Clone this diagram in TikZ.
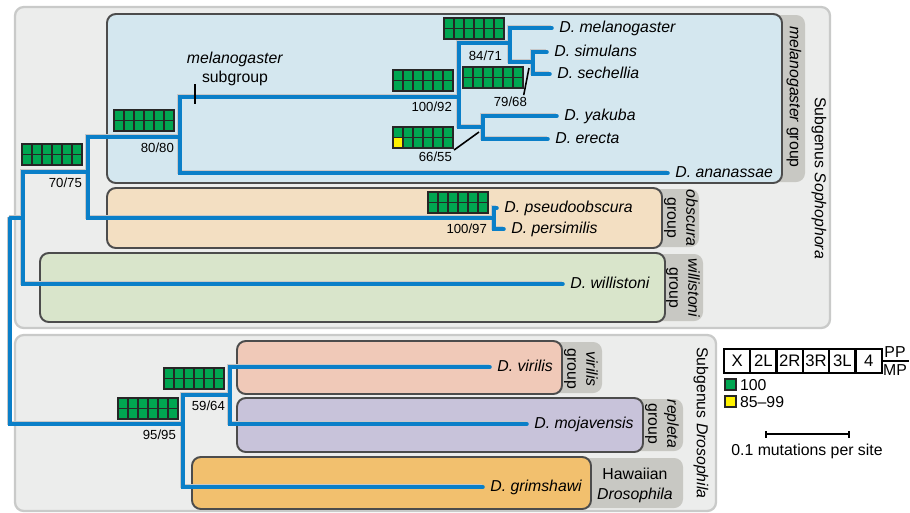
\documentclass[tikz,border=0pt]{standalone}
\usepackage{fontspec}
\setmainfont{Liberation Sans}
\usepackage{tikz}
\usetikzlibrary{positioning}
\definecolor{subfill}{HTML}{ECEDEC}
\definecolor{subline}{HTML}{C9CAC9}
\definecolor{melfill}{HTML}{D4E7EF}
\definecolor{obsfill}{HTML}{F3DFC2}
\definecolor{wilfill}{HTML}{D9E5CB}
\definecolor{virfill}{HTML}{F0C9B8}
\definecolor{repfill}{HTML}{C8C3DA}
\definecolor{hawfill}{HTML}{F2C06E}
\definecolor{tabgray}{HTML}{C8C8C3}
\definecolor{treeblue}{HTML}{0A7FC8}
\definecolor{supgreen}{HTML}{00A651}
\definecolor{supyellow}{HTML}{FFF200}
\tikzstyle{subgenus}=[rounded corners=5pt, draw=subline, line width=1.3pt, fill=subfill]
\tikzstyle{grp}=[rounded corners=5pt, draw=black!70, line width=1.1pt]
\tikzstyle{tab}=[rounded corners=5pt, fill=tabgray]
\tikzstyle{sp}=[anchor=west, inner xsep=4pt, inner ysep=1pt, font=\fontsize{9}{10}\selectfont\itshape, text height=7pt, text depth=2pt]
\tikzstyle{num}=[anchor=east, inner sep=1pt, font=\fontsize{7.5}{8}\selectfont]
\tikzstyle{tag}=[rotate=-90, align=center, inner sep=0pt, font=\fontsize{9}{10.8}\selectfont]
\tikzstyle{branch}=[draw=treeblue, line width=2pt, line cap=round, preaction={draw=black!22, line width=2pt, transform canvas={shift={(-0.6pt,0.6pt)}}}]
\tikzstyle{pointer}=[-, line width=0.9pt]
\tikzstyle{chrom}=[draw, line width=1.3pt, minimum width=0.526cm, minimum height=0.48cm, inner sep=0pt, font=\fontsize{9.5}{10}\selectfont]
\tikzstyle{key}=[anchor=west, inner sep=1pt, font=\fontsize{9}{10}\selectfont]
\tikzstyle{cell}=[line width=0.8pt, draw=black!85]
\tikzset{pics/supbox/.style={code={
  \fill[supgreen] (0,0) rectangle (60,21);
  \fill[#1] (0,10.5) rectangle (10,21);
  \foreach \i in {10,20,...,50} \draw[cell] (\i,0) -- (\i,21);
  \draw[cell] (0,10.5) -- (60,10.5);
  \draw[cell] (0,0) rectangle (60,21);
}}}

\begin{document}
\begin{tikzpicture}[x=0.02cm, y=-0.02cm]
			\useasboundingbox (0,0) rectangle (910,512);

			%The subgenus boxes
			\draw[subgenus] (15,7) rectangle (830,328);
			\draw[subgenus] (15,335) rectangle (716,511);

			%The group tabs
			\fill[tab] (760,15) rectangle (805,182);
			\fill[tab] (640,189) rectangle (699,247);
			\fill[tab] (640,254) rectangle (703,321);
			\fill[tab] (540,342) rectangle (602,393);
			\fill[tab] (620,399) rectangle (683,451);
			\fill[tab] (570,458) rectangle (683,508);

			%The group boxes
			\draw[grp, fill=melfill] (107,14) rectangle (782,183);
			\draw[grp, fill=obsfill] (107,188) rectangle (662,248);
			\draw[grp, fill=wilfill] (40,253) rectangle (665,322);
			\draw[grp, fill=virfill] (237,341) rectangle (562,394);
			\draw[grp, fill=repfill] (237,398) rectangle (643,452);
			\draw[grp, fill=hawfill] (192,457) rectangle (591,509);

			%The group and subgenus names
			\draw (794,97) node[tag] (melgrp) {\textit{melanogaster} group};
			\draw (681,218) node[tag] (obsgrp) {\textit{obscura}\\group};
			\draw (683,288) node[tag] (wilgrp) {\textit{willistoni}\\group};
			\draw (581,369) node[tag] (virgrp) {\textit{virilis}\\group};
			\draw (662,424) node[tag] (repgrp) {\textit{repleta}\\group};
			\draw (635,485) node[align=center, inner sep=0pt, font=\fontsize{9}{11.3}\selectfont] (hawgrp) {Hawaiian\\\textit{Drosophila}};
			\draw (819,178) node[tag] (sopgen) {Subgenus \textit{Sophophora}};
			\draw (701,423) node[tag] (drogen) {Subgenus \textit{Drosophila}};

			%The species
			\draw (552,28) node[sp] (mel) {D. melanogaster};
			\draw (547,52) node[sp] (sim) {D. simulans};
			\draw (550,74) node[sp] (sec) {D. sechellia};
			\draw (557,116) node[sp] (yak) {D. yakuba};
			\draw (548,139) node[sp] (ere) {D. erecta};
			\draw (668,173) node[sp] (ana) {D. ananassae};
			\draw (497,208) node[sp] (pse) {D. pseudoobscura};
			\draw (504,229) node[sp] (per) {D. persimilis};
			\draw (563,284) node[sp] (wil) {D. willistoni};
			\draw (490,367) node[sp] (vir) {D. virilis};
			\draw (527,424) node[sp] (moj) {D. mojavensis};
			\draw (483,487) node[sp] (gri) {D. grimshawi};

			%The inner nodes of the tree
			\coordinate (root) at (10,218);
			\coordinate (sop) at (23,218);
			\coordinate (n1) at (88,172);
			\coordinate (n2) at (180,137);
			\coordinate (n3) at (459,97);
			\coordinate (n4) at (510,43);
			\coordinate (n5) at (533,62);
			\coordinate (n6) at (483,127);
			\coordinate (obs) at (494,218);
			\coordinate (dro) at (183,424);
			\coordinate (n7) at (230,395);

			%The tree
			\draw[branch] (root) -- (sop) (root) |- (dro)
				(sop) |- (n1) (sop) |- (wil.west)
				(n1) |- (n2) (n1) |- (obs)
				(n2) |- (n3) (n2) |- (ana.west)
				(n3) |- (n4) (n3) |- (n6)
				(n4) |- (mel.west) (n4) |- (n5)
				(n5) |- (sim.west) (n5) |- (sec.west)
				(n6) |- (yak.west) (n6) |- (ere.west)
				(obs) |- (pse.west) (obs) |- (per.west)
				(dro) |- (n7) (dro) |- (gri.west)
				(n7) |- (vir.west) (n7) |- (moj.west);

			%The subgroup mark
			\draw[line width=1pt] (195,84) coordinate (subtop) -- (195,104);
			\draw (235,69) node[align=center, inner sep=0pt, font=\fontsize{9}{10.8}\selectfont] (subg) {\textit{melanogaster}\\subgroup};

			%The support boxes
			\pic at (22,144) {supbox=supgreen};
			\pic at (114,110) {supbox=supgreen};
			\pic at (393,70) {supbox=supgreen};
			\pic at (393,127) {supbox=supyellow};
			\pic at (444,18) {supbox=supgreen};
			\pic at (463,67) {supbox=supgreen};
			\pic at (428,192) {supbox=supgreen};
			\pic at (164,368) {supbox=supgreen};
			\pic at (118,398) {supbox=supgreen};

			%The support values
			\draw (84,183) node[num] (s1) {70/75};
			\draw (176,148) node[num] (s2) {80/80};
			\draw (454,107) node[num] (s3) {100/92};
			\draw (454,157) node[num] (s4) {66/55};
			\draw (504,56) node[num] (s5) {84/71};
			\draw (529,102) node[num] (s6) {79/68};
			\draw (489,229) node[num] (s7) {100/97};
			\draw (227,406) node[num] (s8) {59/64};
			\draw (178,435) node[num] (s9) {95/95};

			\coordinate (n6-mark) at (479,132);
			\coordinate (n5-mark) at (529,68);
			\draw[pointer] (s4.north east) -- (n6-mark);
			\draw[pointer] ([xshift=-3pt]s6.north east) -- (n5-mark);

			%The key
			\foreach \lab [count=\i] in {X,2L,2R,3R,3L,4}
				\draw ({724+26.3*(\i-0.5)},361) node[chrom] (c\i) {\lab};
			\draw[line width=1pt] (c6.east) -- ++(26,0) coordinate (ppend);
			\draw (895,352) node[key, anchor=center] (pp) {PP};
			\draw (895,370) node[key, anchor=center] (mp) {MP};
			\draw[cell, fill=supgreen] (725,379) rectangle (736,390);
			\draw (738,385) node[key] (k100) {100};
			\draw[cell, fill=supyellow] (725,396) rectangle (736,407);
			\draw (738,402) node[key] (k85) {85–99};

			%The scale bar
			\draw[line width=1.4pt] (766,431) -- (766,438) (766,434) -- (849,434) (849,431) -- (849,438);
			\draw (807,451) node[key, anchor=center] (scale) {0.1 mutations per site};
		\end{tikzpicture}
\end{document}
